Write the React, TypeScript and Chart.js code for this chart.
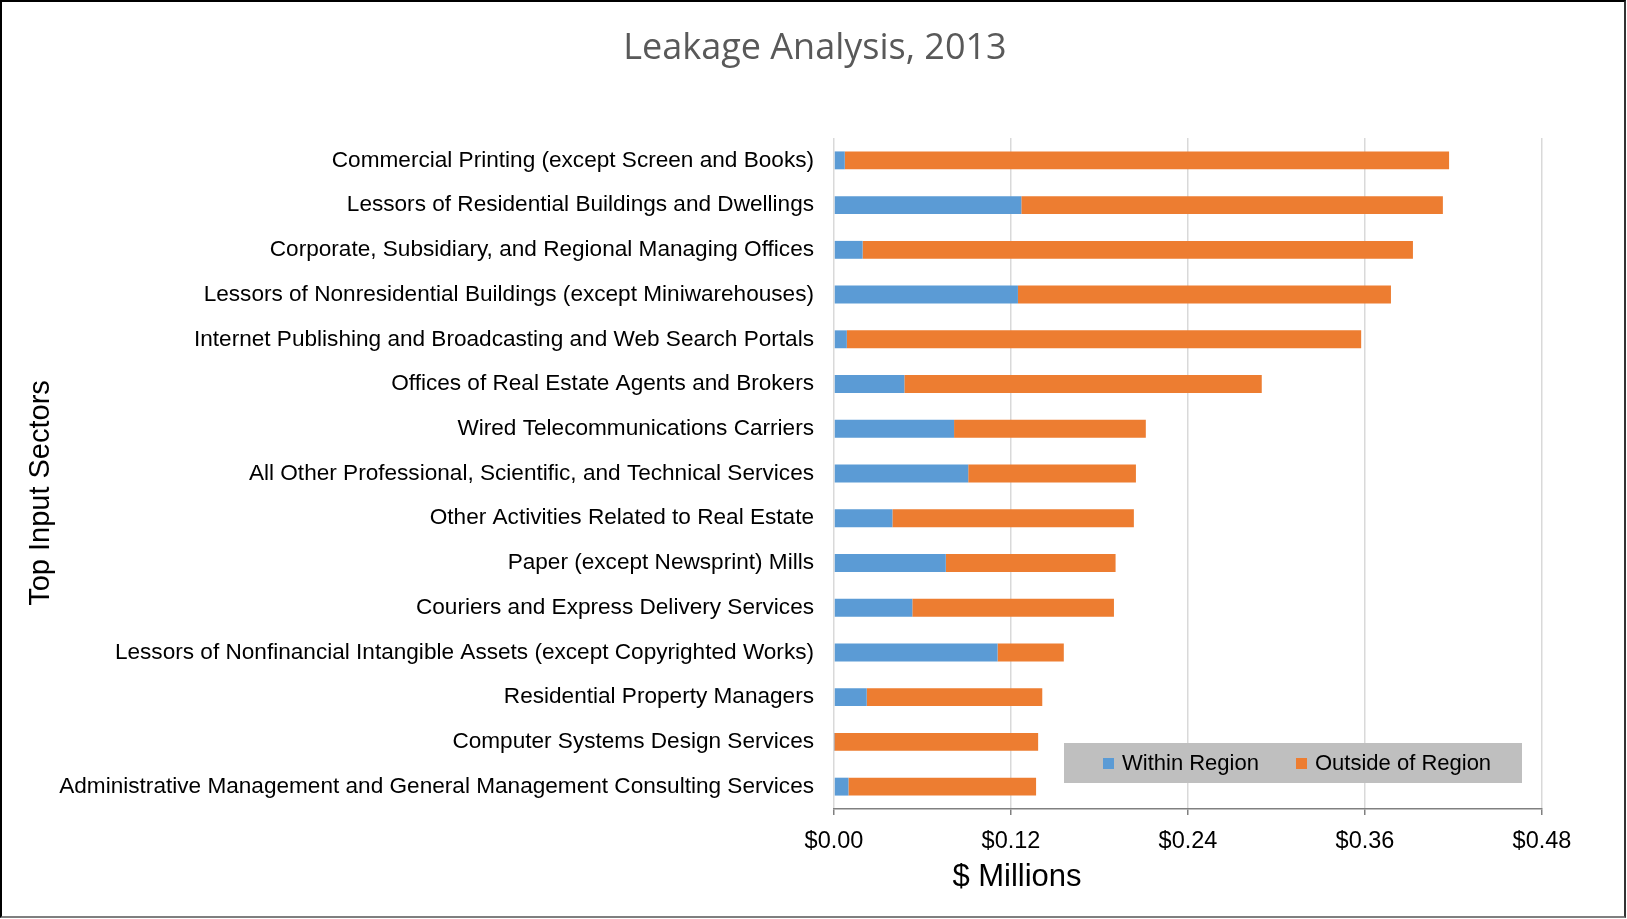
import React, { useEffect, useRef } from "react";
import { Chart, registerables } from "chart.js";

Chart.register(...registerables);

const categories: string[] = [
  "Commercial Printing (except Screen and Books)",
  "Lessors of Residential Buildings and Dwellings",
  "Corporate, Subsidiary, and Regional Managing Offices",
  "Lessors of Nonresidential Buildings (except Miniwarehouses)",
  "Internet Publishing and Broadcasting and Web Search Portals",
  "Offices of Real Estate Agents and Brokers",
  "Wired Telecommunications Carriers",
  "All Other Professional, Scientific, and Technical Services",
  "Other Activities Related to Real Estate",
  "Paper (except Newsprint) Mills",
  "Couriers and Express Delivery Services",
  "Lessors of Nonfinancial Intangible Assets (except Copyrighted Works)",
  "Residential Property Managers",
  "Computer Systems Design Services",
  "Administrative Management and General Management Consulting Services",
];

const withinRegion: number[] = [
  0.0073, 0.127, 0.0194, 0.1247, 0.0087, 0.0477, 0.0814, 0.091, 0.0396,
  0.0758, 0.0531, 0.1109, 0.0222, 0.0003, 0.0098,
];

const outsideRegion: number[] = [
  0.4097, 0.2858, 0.3731, 0.2529, 0.3487, 0.2423, 0.13, 0.1137, 0.1637,
  0.1151, 0.1367, 0.0449, 0.119, 0.1381, 0.1272,
];

const seriesNames: string[] = ["Within Region", "Outside of Region"];
const xTicks: number[] = [0, 0.12, 0.24, 0.36, 0.48];

const chartTitle = "Leakage Analysis, 2013";
const xTitle = "$ Millions";
const yTitle = "Top Input Sectors";

const BLUE = "#5B9BD5";
const ORANGE = "#ED7D31";
const LABEL_FONT = "'Liberation Sans', Arial, sans-serif";

const decorPlugin = {
  id: "decor",
  afterDraw(chart: any) {
    const ctx = chart.ctx as CanvasRenderingContext2D;
    ctx.save();
    // Title
    ctx.fillStyle = "#595959";
    ctx.font = `36px 'Open Sans', sans-serif`;
    ctx.textAlign = "center";
    ctx.textBaseline = "middle";
    ctx.fillText(chartTitle, 815, 49);

    // X axis title
    ctx.fillStyle = "#000000";
    ctx.font = `31px ${LABEL_FONT}`;
    ctx.fillText(xTitle, 1017, 877);

    // Y axis title (rotated)
    ctx.save();
    ctx.translate(41, 493);
    ctx.rotate(-Math.PI / 2);
    ctx.font = `29px ${LABEL_FONT}`;
    ctx.fillText(yTitle, 0, 0);
    ctx.restore();

    // Legend
    const lx = 1064, ly = 743, lw = 458, lh = 40;
    ctx.fillStyle = "#BFBFBF";
    ctx.fillRect(lx, ly, lw, lh);
    const colors = [BLUE, ORANGE];
    const starts = [1103, 1296];
    ctx.font = `22px ${LABEL_FONT}`;
    ctx.textAlign = "left";
    ctx.textBaseline = "middle";
    chart.data.datasets.forEach((ds: any, i: number) => {
      ctx.fillStyle = colors[i];
      ctx.fillRect(starts[i], 758, 11, 11);
      ctx.fillStyle = "#000000";
      ctx.fillText(ds.label, starts[i] + 19, 764);
    });
    ctx.restore();
  },
};

export default function App() {
  const canvasRef = useRef<HTMLCanvasElement | null>(null);

  useEffect(() => {
    if (!canvasRef.current) return;
    const chart = new Chart(canvasRef.current, {
      type: "bar",
      data: {
        labels: categories,
        datasets: [
          {
            label: seriesNames[0],
            data: withinRegion,
            backgroundColor: BLUE,
            borderWidth: 0,
            categoryPercentage: 0.8,
            barPercentage: 0.5,
          },
          {
            label: seriesNames[1],
            data: outsideRegion,
            backgroundColor: ORANGE,
            borderWidth: 0,
            categoryPercentage: 0.8,
            barPercentage: 0.5,
          },
        ],
      },
      options: {
        indexAxis: "y",
        responsive: false,
        animation: false,
        devicePixelRatio: 1,
        layout: {
          padding: { left: 10, right: 85, top: 138, bottom: 60 },
        },
        plugins: {
          legend: { display: false },
          title: { display: false },
          tooltip: { enabled: false },
        },
        scales: {
          x: {
            stacked: true,
            min: 0,
            max: 0.48,
            afterFit: (scale: any) => {
              scale.height = 50;
            },
            afterBuildTicks: (scale: any) => {
              scale.ticks = xTicks.map((v) => ({ value: v }));
            },
            ticks: {
              color: "#000000",
              font: { family: LABEL_FONT, size: 23.5 },
              padding: 12,
              callback: (v: any) => "$" + Number(v).toFixed(2),
            },
            grid: {
              color: "#D9D9D9",
              lineWidth: 1.5,
              tickColor: "#808080",
              tickLength: 6,
              drawTicks: true,
            },
            border: { display: true, color: "#808080", width: 1.5 },
          },
          y: {
            stacked: true,
            afterFit: (scale: any) => {
              scale.width = 824;
            },
            ticks: {
              color: "#000000",
              font: { family: LABEL_FONT, size: 22.6 },
              padding: 20,
              autoSkip: false,
            },
            grid: { display: false, drawTicks: false },
            border: { display: false },
          },
        },
      },
      plugins: [decorPlugin],
    });
    return () => chart.destroy();
  }, []);

  return (
    <div
      style={{
        position: "absolute",
        left: 0,
        top: 0,
        width: 1627,
        height: 919,
        background: "#ffffff",
        overflow: "hidden",
      }}
    >
      <canvas ref={canvasRef} width={1627} height={919} style={{ display: "block" }} />
      <div
        style={{
          position: "absolute",
          left: 0,
          top: 0,
          width: 1626,
          height: 918,
          boxSizing: "border-box",
          border: "2px solid #000000",
          borderRight: "2px solid #333333",
          borderBottom: "2px solid #7f7f7f",
          pointerEvents: "none",
        }}
      />
    </div>
  );
}
